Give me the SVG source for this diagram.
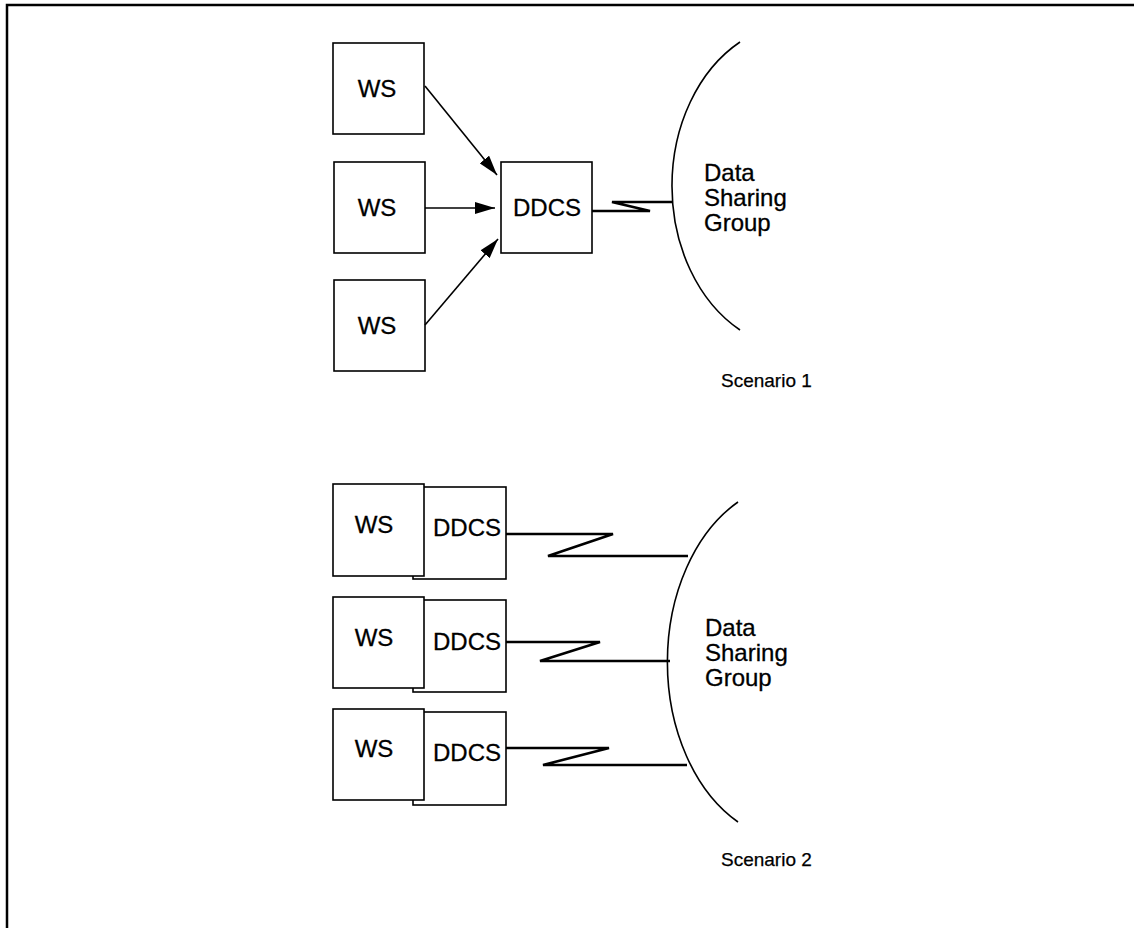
<svg xmlns="http://www.w3.org/2000/svg" width="1134" height="928" viewBox="0 0 1134 928">
<defs>
<style>
.box{fill:#fff;stroke:#000;stroke-width:1.6}
.lbl{font-family:"Liberation Sans",Arial,sans-serif;font-size:24px;fill:#000;stroke:#000;stroke-width:0.3}
.cap{font-family:"Liberation Sans",Arial,sans-serif;font-size:19px;fill:#000;stroke:#000;stroke-width:0.25}
.conn{fill:none;stroke:#000;stroke-width:1.6}
.zig{fill:none;stroke:#000;stroke-width:2.6;stroke-linejoin:miter}
.arc{fill:none;stroke:#000;stroke-width:1.6}
</style>
<marker id="ah" viewBox="0 0 20 12" refX="20" refY="6" markerWidth="20" markerHeight="12" markerUnits="userSpaceOnUse" orient="auto">
<path d="M0,0 L20,6 L0,12 z" fill="#000"/>
</marker>
</defs>
<rect width="1134" height="928" fill="#fff"/>
<path d="M7,928 L7,5 L1134,5" fill="none" stroke="#000" stroke-width="2.5"/>

<g id="s1-ws1"><rect class="box" x="333" y="43" width="91" height="91"/><text class="lbl" x="377" y="97" text-anchor="middle">WS</text></g>
<g id="s1-ws2"><rect class="box" x="334" y="162" width="91" height="91"/><text class="lbl" x="377" y="216" text-anchor="middle">WS</text></g>
<g id="s1-ws3"><rect class="box" x="334" y="280" width="91" height="91"/><text class="lbl" x="377" y="334" text-anchor="middle">WS</text></g>
<g id="s1-ddcs"><rect class="box" x="501" y="162" width="91" height="91"/><text class="lbl" x="547" y="216" text-anchor="middle">DDCS</text></g>
<g id="s1-dsg"><path class="arc" d="M740,42 A128,163 0 0,0 740,330"/>
<text class="lbl" x="704" y="181">Data</text><text class="lbl" x="704" y="206">Sharing</text><text class="lbl" x="704" y="231">Group</text></g>
<text class="cap" x="721" y="387">Scenario 1</text>

<g id="s2-row1"><rect class="box" x="413" y="487" width="93" height="92"/><rect class="box" x="333" y="484" width="91" height="92"/>
<text class="lbl" x="374" y="533" text-anchor="middle">WS</text><text class="lbl" x="467" y="536" text-anchor="middle">DDCS</text></g>
<g id="s2-row2"><rect class="box" x="413" y="600" width="93" height="92"/><rect class="box" x="333" y="597" width="91" height="91"/>
<text class="lbl" x="374" y="646" text-anchor="middle">WS</text><text class="lbl" x="467" y="650" text-anchor="middle">DDCS</text></g>
<g id="s2-row3"><rect class="box" x="413" y="712" width="93" height="93"/><rect class="box" x="333" y="709" width="91" height="91"/>
<text class="lbl" x="374" y="757" text-anchor="middle">WS</text><text class="lbl" x="467" y="761" text-anchor="middle">DDCS</text></g>
<g id="s2-dsg"><path class="arc" d="M738,502 A128,179 0 0,0 738,822"/>
<text class="lbl" x="705" y="636">Data</text><text class="lbl" x="705" y="661">Sharing</text><text class="lbl" x="705" y="686">Group</text></g>
<text class="cap" x="721" y="866">Scenario 2</text>

<g id="connectors">
<line class="conn" x1="425" y1="86" x2="497" y2="175" marker-end="url(#ah)"/>
<line class="conn" x1="425" y1="208" x2="495" y2="208" marker-end="url(#ah)"/>
<line class="conn" x1="425" y1="325" x2="498" y2="239" marker-end="url(#ah)"/>
<polyline class="zig" points="592,211 650,211 612,202 673,202"/>
<polyline class="zig" points="506,534 613,534 548,556 688,556"/>
<polyline class="zig" points="506,642 600,642 540,661 670,661"/>
<polyline class="zig" points="506,748 609,748 543,765 687,765"/>
</g>
</svg>
